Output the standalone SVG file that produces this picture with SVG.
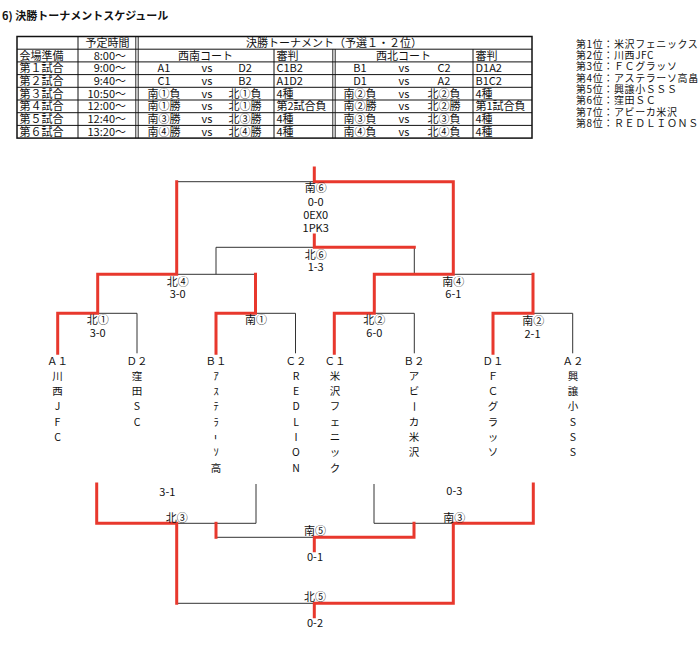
<svg xmlns="http://www.w3.org/2000/svg" width="700" height="646" viewBox="0 0 700 646">
<style>
.t{font-family:"Noto Sans CJK JP","Liberation Sans",sans-serif;font-size:11px;fill:#111}
.m{text-anchor:middle}
.e{text-anchor:end}
.rk{font-size:10px;letter-spacing:0.6px}
.tm{font-size:10.5px}
.ttl{font-size:11px;font-weight:bold}
.tl{stroke:#111;stroke-width:1;fill:none}
.tb{stroke:#111;stroke-width:1.5;fill:none}
.bk{stroke:#333;stroke-width:1;fill:none}
.rd{stroke:#e8382d;stroke-width:3;fill:none;stroke-linecap:square}
.rot{dominant-baseline:central}
</style>
<rect width="700" height="646" fill="#fff"/>
<text class="t ttl" x="2" y="20">6) 決勝トーナメントスケジュール</text>

<g id="schedule">
<rect class="tb" x="17" y="36.5" width="515" height="101.6"/>
<path class="tl" d="M17 49.2H532M17 61.9H532M17 74.6H532M17 87.3H532M17 100H532M17 112.7H532M17 125.4H532"/>
<path class="tl" d="M78 36.5V138.1M274 49.2V138.1M473 49.2V138.1"/>
<path class="tl" style="stroke-width:0.9" d="M135.8 36.5V138.1M138.2 36.5V138.1M332.8 49.2V138.1M335.2 49.2V138.1"/>
<text class="t m" x="107.5" y="46.8">予定時間</text>
<text class="t m" x="334" y="46.8">決勝トーナメント（予選１・２位）</text>
<text class="t" x="19.5" y="59.5">会場準備</text>
<text class="t e" x="126" y="59.5">8:00～</text>
<text class="t m" x="205.5" y="59.5">西南コート</text>
<text class="t" x="276.5" y="59.5">審判</text>
<text class="t m" x="403.5" y="59.5">西北コート</text>
<text class="t" x="475.5" y="59.5">審判</text>

<text class="t" x="19.5" y="72.2">第１試合</text>
<text class="t e" x="126" y="72.2">9:00～</text>
<text class="t m" x="164" y="72.2">A1</text><text class="t m" x="207" y="72.2">vs</text><text class="t m" x="245" y="72.2">D2</text>
<text class="t" x="276.5" y="72.2">C1B2</text>
<text class="t m" x="360" y="72.2">B1</text><text class="t m" x="404" y="72.2">vs</text><text class="t m" x="444" y="72.2">C2</text>
<text class="t" x="475.5" y="72.2">D1A2</text>

<text class="t" x="19.5" y="84.9">第２試合</text>
<text class="t e" x="126" y="84.9">9:40～</text>
<text class="t m" x="164" y="84.9">C1</text><text class="t m" x="207" y="84.9">vs</text><text class="t m" x="245" y="84.9">B2</text>
<text class="t" x="276.5" y="84.9">A1D2</text>
<text class="t m" x="360" y="84.9">D1</text><text class="t m" x="404" y="84.9">vs</text><text class="t m" x="444" y="84.9">A2</text>
<text class="t" x="475.5" y="84.9">B1C2</text>

<text class="t" x="19.5" y="97.6">第３試合</text>
<text class="t e" x="126" y="97.6">10:50～</text>
<text class="t m" x="164" y="97.6">南①負</text><text class="t m" x="207" y="97.6">vs</text><text class="t m" x="245" y="97.6">北①負</text>
<text class="t" x="276.5" y="97.6">4種</text>
<text class="t m" x="360" y="97.6">南②負</text><text class="t m" x="404" y="97.6">vs</text><text class="t m" x="444" y="97.6">北②負</text>
<text class="t" x="475.5" y="97.6">4種</text>

<text class="t" x="19.5" y="110.3">第４試合</text>
<text class="t e" x="126" y="110.3">12:00～</text>
<text class="t m" x="164" y="110.3">南①勝</text><text class="t m" x="207" y="110.3">vs</text><text class="t m" x="245" y="110.3">北①勝</text>
<text class="t" x="276.5" y="110.3">第2試合負</text>
<text class="t m" x="360" y="110.3">南②勝</text><text class="t m" x="404" y="110.3">vs</text><text class="t m" x="444" y="110.3">北②勝</text>
<text class="t" x="475.5" y="110.3">第1試合負</text>

<text class="t" x="19.5" y="123">第５試合</text>
<text class="t e" x="126" y="123">12:40～</text>
<text class="t m" x="164" y="123">南③勝</text><text class="t m" x="207" y="123">vs</text><text class="t m" x="245" y="123">北③勝</text>
<text class="t" x="276.5" y="123">4種</text>
<text class="t m" x="360" y="123">南③負</text><text class="t m" x="404" y="123">vs</text><text class="t m" x="444" y="123">北③負</text>
<text class="t" x="475.5" y="123">4種</text>

<text class="t" x="19.5" y="135.7">第６試合</text>
<text class="t e" x="126" y="135.7">13:20～</text>
<text class="t m" x="164" y="135.7">南④勝</text><text class="t m" x="207" y="135.7">vs</text><text class="t m" x="245" y="135.7">北④勝</text>
<text class="t" x="276.5" y="135.7">4種</text>
<text class="t m" x="360" y="135.7">南④負</text><text class="t m" x="404" y="135.7">vs</text><text class="t m" x="444" y="135.7">北④負</text>
<text class="t" x="475.5" y="135.7">4種</text>
</g>

<g id="rankings">
<text class="t rk" x="576" y="47.6">第1位：米沢フェニックス</text>
<text class="t rk" x="576" y="58.9">第2位：川西JFC</text>
<text class="t rk" x="576" y="70.3">第3位：ＦＣグラッソ</text>
<text class="t rk" x="576" y="81.6">第4位：アステラーソ高畠</text>
<text class="t rk" x="576" y="92.9">第5位：興譲小ＳＳＳ</text>
<text class="t rk" x="576" y="104.3">第6位：窪田ＳＣ</text>
<text class="t rk" x="576" y="115.6">第7位：アビーカ米沢</text>
<text class="t rk" x="576" y="126.9">第8位：ＲＥＤＬＩＯＮＳ</text>
</g>

<g id="connectors">
<path class="bk" d="M176.7 181.7H314.3"/>
<path class="bk" d="M216 274.3V247.3H314.3M414.3 247.3V274.3"/>
<path class="bk" d="M176.7 274.3H255.5M453.3 274.3H533"/>
<path class="bk" d="M97.7 313.3H137V353.3M255.5 313.3H295.5V353.3M374.3 313.3H414.3V353.3M533 313.3H572.7V353.3"/>
<path class="bk" d="M256 484V523.3H176.7M216 537.3H314.3M176.7 603.3H314.3M374 484V523.3H453.3"/>
<path class="rd" d="M314.3 168V181.7H453.3V274.3H374.3V313.3H334.3V353.3"/>
<path class="rd" d="M314.3 235V247.3H414.3"/>
<path class="rd" d="M176.7 181.7V274.3H97.7V313.3H57.7V353.3"/>
<path class="rd" d="M255.5 274.3V313.3H216V353.3"/>
<path class="rd" d="M533 274.3V313.3H493V353.3"/>
<path class="rd" d="M96.7 484V523.3H176.7V603.3"/>
<path class="rd" d="M216 523.3V537.3"/>
<path class="rd" d="M414 523.3V537.3H314.3V550.7"/>
<path class="rd" d="M533.3 484V523.3H453.3V603.3H314.3V616.7"/>
</g>

<g id="match-S6"><text class="t m" x="315.7" y="192">南⑥</text><text class="t m" x="315.7" y="205.7">0-0</text><text class="t m" x="315.7" y="219">0EX0</text><text class="t m" x="315.7" y="232.3">1PK3</text></g>
<g id="match-N6"><text class="t m" x="315.7" y="259">北⑥</text><text class="t m" x="315.7" y="271.3">1-3</text></g>
<g id="match-N4"><text class="t m" x="177.7" y="285.7">北④</text><text class="t m" x="177.7" y="298.3">3-0</text></g>
<g id="match-S4"><text class="t m" x="453.3" y="285.7">南④</text><text class="t m" x="453.3" y="298.3">6-1</text></g>
<g id="match-N1"><text class="t m" x="97.7" y="324">北①</text><text class="t m" x="97.7" y="337.3">3-0</text></g>
<g id="match-S1"><text class="t m" x="256" y="324">南①</text></g>
<g id="match-N2"><text class="t m" x="374.3" y="324">北②</text><text class="t m" x="374.3" y="337.3">6-0</text></g>
<g id="match-S2"><text class="t m" x="533.3" y="324.5">南②</text><text class="t m" x="532.5" y="338">2-1</text></g>
<g id="match-N3"><text class="t m" x="167.3" y="495.7">3-1</text><text class="t m" x="176.7" y="521.7">北③</text></g>
<g id="match-S3"><text class="t m" x="454.3" y="495">0-3</text><text class="t m" x="454.3" y="521.7">南③</text></g>
<g id="match-S5"><text class="t m" x="315" y="535">南⑤</text><text class="t m" x="315" y="561.3">0-1</text></g>
<g id="match-N5"><text class="t m" x="315" y="601">北⑤</text><text class="t m" x="315" y="627.3">0-2</text></g>

<g id="team-A1"><text class="t tm m"><tspan x="57.5" y="364.5">Ａ１</tspan><tspan x="57.5" y="379.8">川</tspan><tspan x="57.5" y="395.1">西</tspan><tspan x="57.5" y="410.4">J</tspan><tspan x="57.5" y="425.7">F</tspan><tspan x="57.5" y="441">C</tspan></text></g>
<g id="team-D2"><text class="t tm m"><tspan x="137" y="364.5">Ｄ２</tspan><tspan x="137" y="379.8">窪</tspan><tspan x="137" y="395.1">田</tspan><tspan x="137" y="410.4">S</tspan><tspan x="137" y="425.7">C</tspan></text></g>
<g id="team-B1"><text class="t tm m"><tspan x="216" y="364.5">Ｂ１</tspan><tspan x="216" y="379.8">ｱ</tspan><tspan x="216" y="395.1">ｽ</tspan><tspan x="216" y="410.4">ﾃ</tspan><tspan x="216" y="425.7">ﾗ</tspan><tspan x="216" y="456.3">ｿ</tspan><tspan x="216" y="471.6">高</tspan></text><text class="t tm m rot" x="216" y="437.2" transform="rotate(90 216 437.2)">ｰ</text></g>
<g id="team-C2"><text class="t tm m"><tspan x="296" y="364.5">Ｃ２</tspan><tspan x="296" y="379.8">R</tspan><tspan x="296" y="395.1">E</tspan><tspan x="296" y="410.4">D</tspan><tspan x="296" y="425.7">L</tspan><tspan x="296" y="441">I</tspan><tspan x="296" y="456.3">O</tspan><tspan x="296" y="471.6">N</tspan></text></g>
<g id="team-C1"><text class="t tm m"><tspan x="335" y="364.5">Ｃ１</tspan><tspan x="335" y="379.8">米</tspan><tspan x="335" y="395.1">沢</tspan><tspan x="335" y="410.4">フ</tspan><tspan x="335" y="425.7">ェ</tspan><tspan x="335" y="441">ニ</tspan><tspan x="335" y="456.3">ッ</tspan><tspan x="335" y="471.6">ク</tspan></text></g>
<g id="team-B2"><text class="t tm m"><tspan x="414" y="364.5">Ｂ２</tspan><tspan x="414" y="379.8">ア</tspan><tspan x="414" y="395.1">ビ</tspan><tspan x="414" y="425.7">カ</tspan><tspan x="414" y="441">米</tspan><tspan x="414" y="456.3">沢</tspan></text><text class="t tm m rot" x="414" y="406.6" transform="rotate(90 414 406.6)">ー</text></g>
<g id="team-D1"><text class="t tm m"><tspan x="493" y="364.5">Ｄ１</tspan><tspan x="493" y="379.8">Ｆ</tspan><tspan x="493" y="395.1">Ｃ</tspan><tspan x="493" y="410.4">グ</tspan><tspan x="493" y="425.7">ラ</tspan><tspan x="493" y="441">ッ</tspan><tspan x="493" y="456.3">ソ</tspan></text></g>
<g id="team-A2"><text class="t tm m"><tspan x="573" y="364.5">Ａ２</tspan><tspan x="573" y="379.8">興</tspan><tspan x="573" y="395.1">譲</tspan><tspan x="573" y="410.4">小</tspan><tspan x="573" y="425.7">S</tspan><tspan x="573" y="441">S</tspan><tspan x="573" y="456.3">S</tspan></text></g>
</svg>
